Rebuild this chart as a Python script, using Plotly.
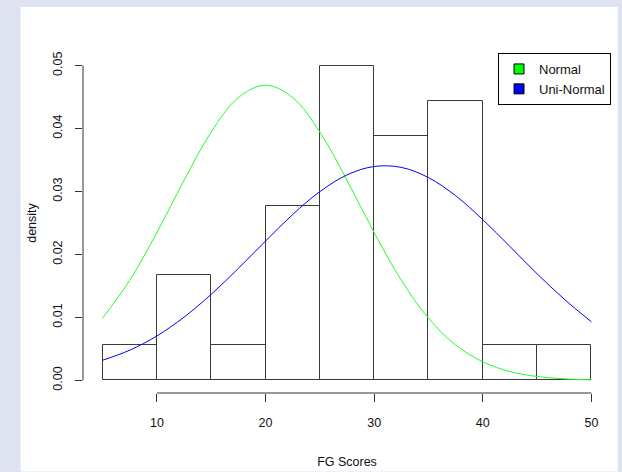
import plotly.graph_objects as go

# ---- data ----
bin_starts = [5, 10, 15, 20, 25, 30, 35, 40, 45]
bin_width = 5
densities = [0.00556, 0.01667, 0.00556, 0.02778, 0.05, 0.03889, 0.04444, 0.00556, 0.00556]

curve_x = [5, 7.5, 10, 12.5, 15, 17.5, 20, 22.5, 25, 27.5, 30, 32.5, 35, 37.5, 40, 42.5, 45, 47.5, 50]
normal_y = [0.00988, 0.01590, 0.02347, 0.03178, 0.03945, 0.04492, 0.04690, 0.04492, 0.03945,
            0.03178, 0.02347, 0.01590, 0.00988, 0.00563, 0.00295, 0.00141, 0.00062, 0.00025, 0.00009]
uninormal_y = [0.00320, 0.00480, 0.00706, 0.01005, 0.01367, 0.01779, 0.02213, 0.02635, 0.02998,
               0.03264, 0.03398, 0.03383, 0.03221, 0.02933, 0.02553, 0.02127, 0.01693, 0.01290, 0.00930]

x_ticks = [10, 20, 30, 40, 50]
y_ticks = [0.0, 0.01, 0.02, 0.03, 0.04, 0.05]
y_ticktext = ["0.00", "0.01", "0.02", "0.03", "0.04", "0.05"]

FONT = "Liberation Sans, Arial, sans-serif"
AXIS_COLOR = "#333333"

fig = go.Figure()

fig.add_trace(go.Bar(
    x=bin_starts, y=densities, width=bin_width, offset=0,
    marker=dict(color="white", line=dict(color="#3a3a3a", width=1)),
    showlegend=False, hoverinfo="skip",
))

fig.add_trace(go.Scatter(
    x=curve_x, y=normal_y, mode="lines", line=dict(color="#22ff22", width=1, shape="spline"),
    showlegend=False,
))
fig.add_trace(go.Scatter(
    x=curve_x, y=uninormal_y, mode="lines", line=dict(color="#0000ff", width=1, shape="spline"),
    showlegend=False,
))

# legend entries (filled squares as in R legend with fill=)
for name, col in [("Normal", "#00ff00"), ("Uni-Normal", "#0000ff")]:
    fig.add_trace(go.Scatter(
        x=[None], y=[None], mode="markers", name=name,
        marker=dict(symbol="square", size=10, color=col, line=dict(color="black", width=1)),
    ))

# axis lines spanning tick range only (R style)
fig.add_shape(type="line", xref="x", yref="paper", x0=x_ticks[0], x1=x_ticks[-1], y0=0, y1=0,
              line=dict(color=AXIS_COLOR, width=1))
fig.add_shape(type="line", xref="paper", yref="y", x0=0, x1=0, y0=y_ticks[0], y1=y_ticks[-1],
              line=dict(color=AXIS_COLOR, width=1))

# white panel inside lavender frame
fig.add_shape(type="rect", xref="paper", yref="paper", x0=-0.1182, x1=1.0129, y0=-0.2306, y1=1.1354,
              fillcolor="white", line=dict(width=0), layer="below")

fig.update_layout(
    width=622, height=472,
    margin=dict(l=82.5, r=10.8, t=53.1, b=78.5, autoexpand=False),
    paper_bgcolor="#dfe2f0",
    plot_bgcolor="rgba(0,0,0,0)",
    font=dict(family=FONT, size=12.5, color="#111111"),
    bargap=0,
    legend=dict(x=1, y=1, xanchor="right", yanchor="top", bordercolor="black", borderwidth=1,
                bgcolor="white", font=dict(size=13, family=FONT, color="#111111"),
                itemwidth=30, tracegroupgap=0),
    xaxis=dict(range=[3.2, 51.8], tickvals=x_ticks, ticks="outside", ticklen=8, tickcolor=AXIS_COLOR,
               showgrid=False, zeroline=False, showline=False, automargin=False,
               ticklabelstandoff=10,
               title=dict(text="FG Scores", standoff=28, font=dict(size=12.5))),
    yaxis=dict(range=[-0.002, 0.052], tickvals=y_ticks, ticktext=y_ticktext, ticks="outside", ticklen=7,
               tickcolor=AXIS_COLOR, tickangle=-90, showgrid=False, zeroline=False, showline=False,
               automargin=False, ticklabelstandoff=8,
               title=dict(text="density", standoff=11, font=dict(size=12.5))),
)

fig.write_html("out.html", config={"displayModeBar": False},
               post_script="document.body.style.margin='0px';document.body.style.overflow='hidden';")
